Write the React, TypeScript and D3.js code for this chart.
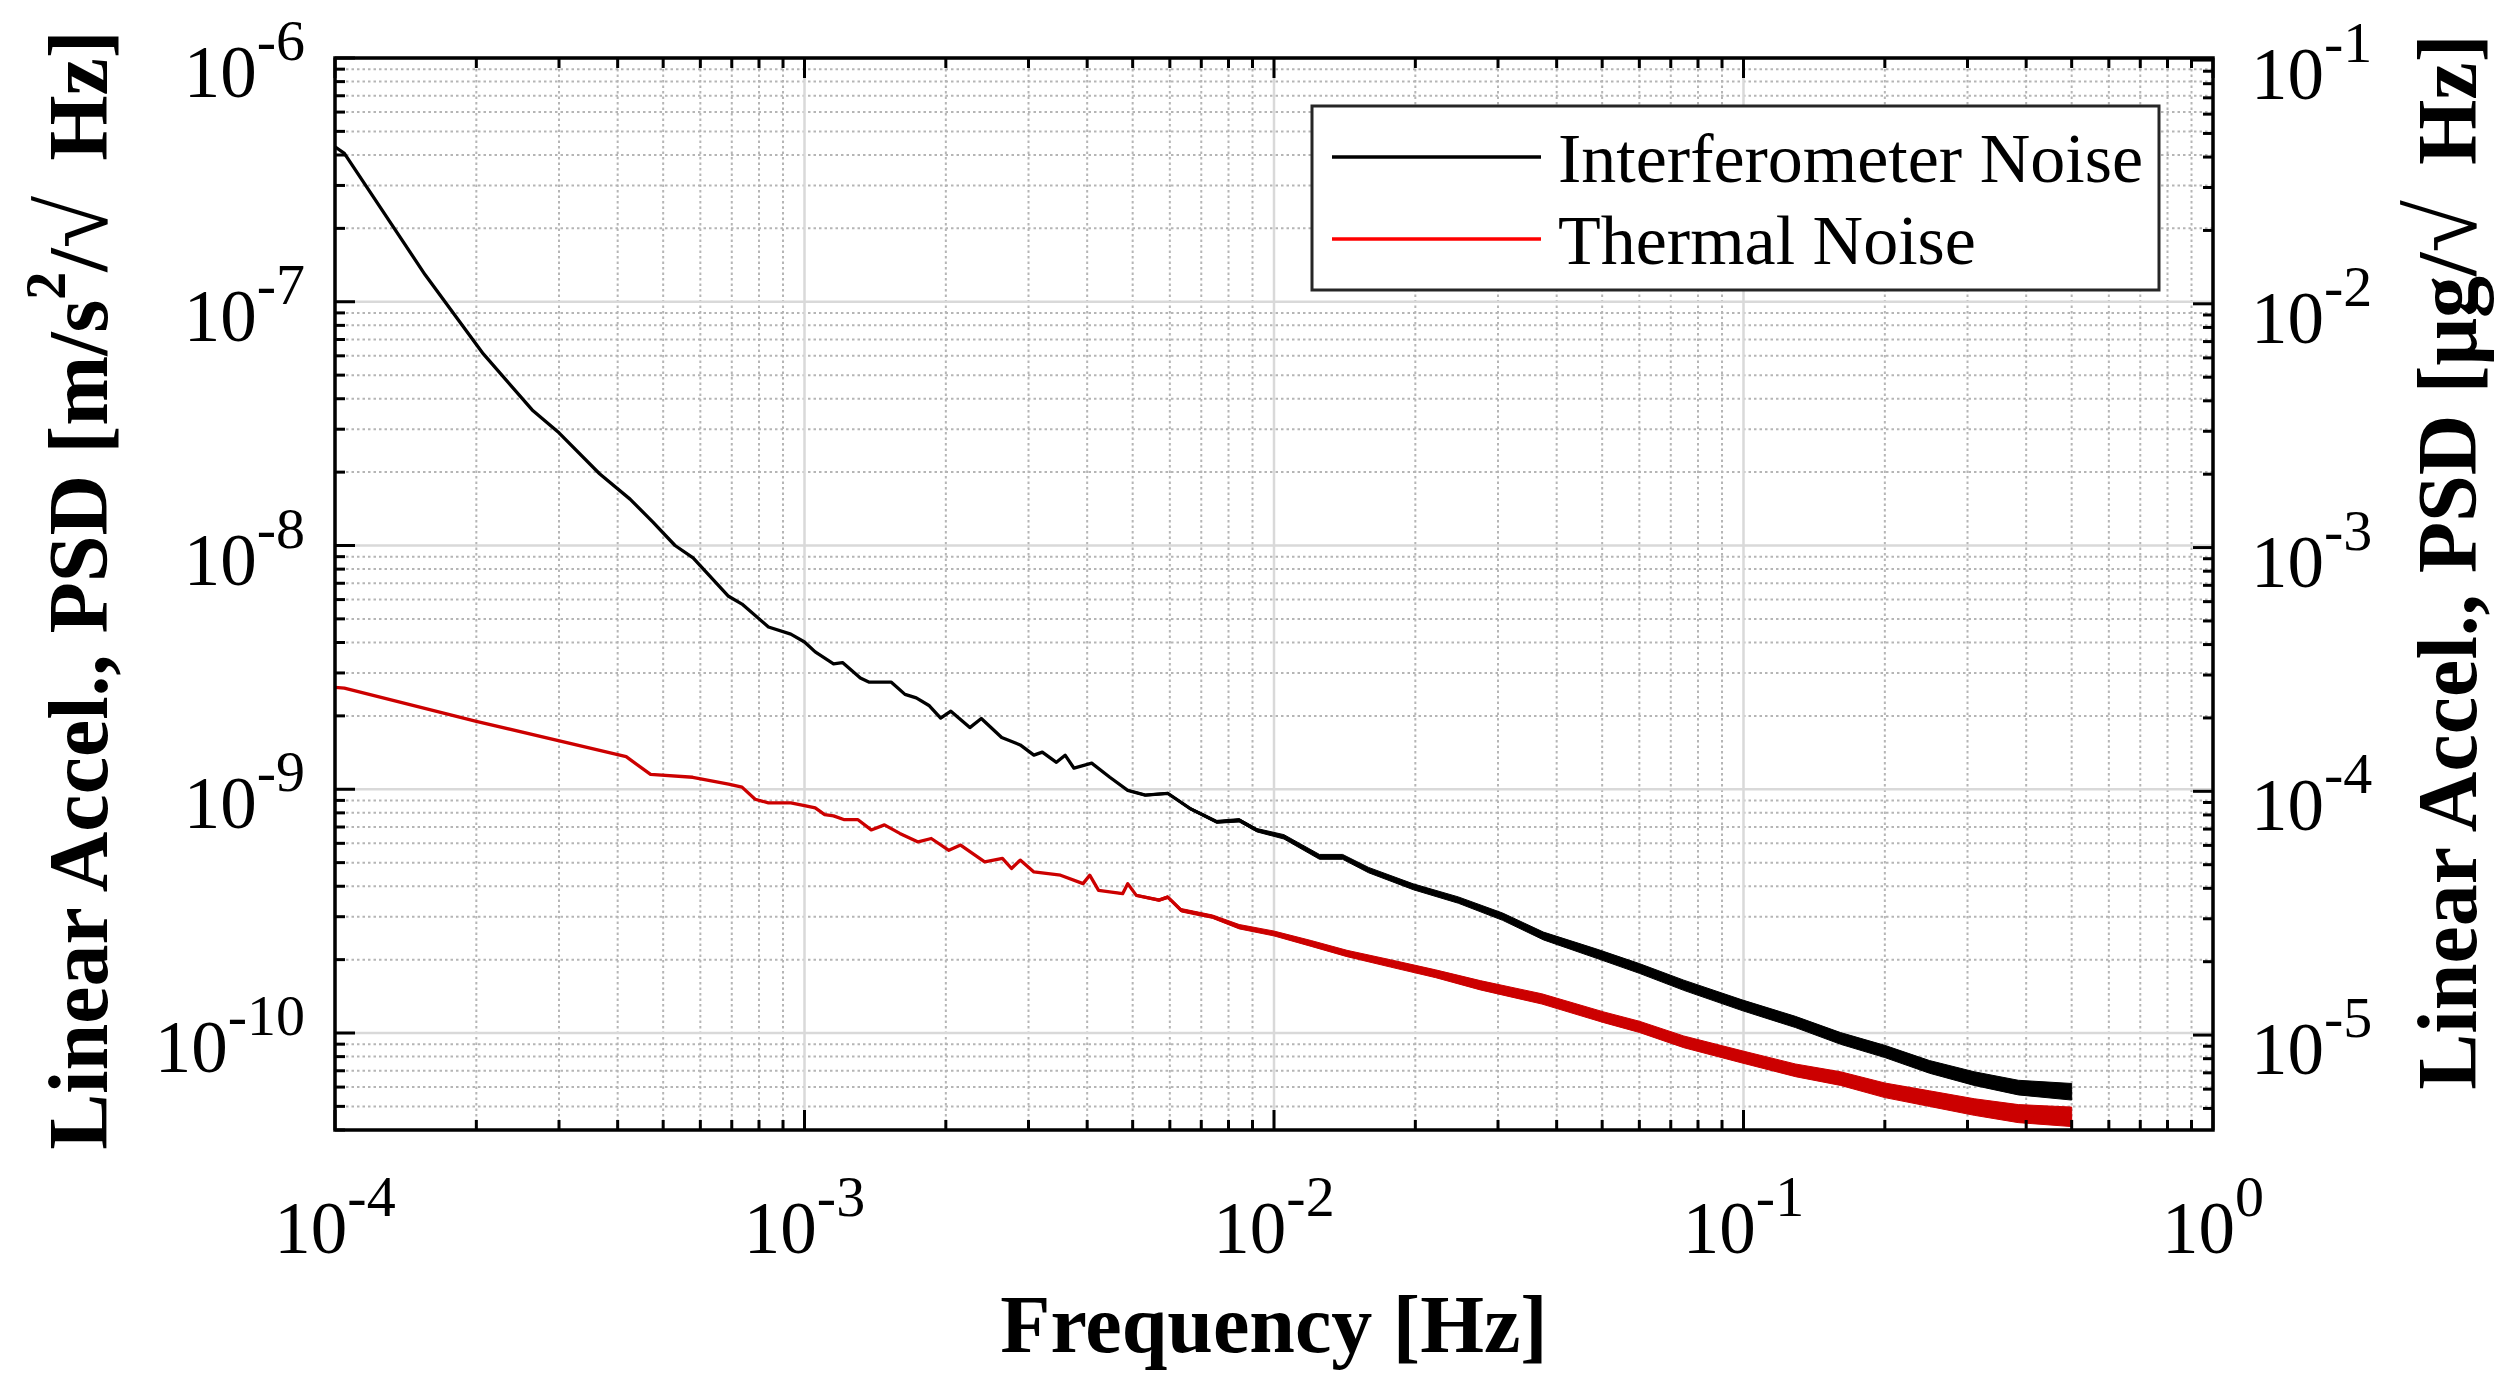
import { useEffect, useRef } from 'react'
import * as d3 from 'd3'

// Interferometer noise PSD [m/s^2/sqrt(Hz)]
const interfFreq = [1.0e-4, 1.047e-4, 1.556e-4, 2.07e-4, 2.63e-4, 3.0e-4, 3.66e-4, 4.25e-4, 4.75e-4, 5.3e-4, 5.79e-4, 6.89e-4, 7.36e-4, 8.38e-4, 9.35e-4, 1.0e-3, 1.054e-3, 1.153e-3, 1.205e-3, 1.315e-3, 1.374e-3, 1.531e-3, 1.637e-3, 1.73e-3, 1.845e-3, 1.95e-3, 2.05e-3, 2.25e-3, 2.38e-3, 2.63e-3, 2.88e-3, 3.08e-3, 3.21e-3, 3.44e-3, 3.59e-3, 3.75e-3, 4.09e-3, 4.47e-3, 4.88e-3, 5.32e-3, 5.94e-3, 6.62e-3, 7.55e-3, 8.43e-3, 9.2e-3, 1.05e-2, 1.25e-2, 1.4e-2, 1.59e-2, 1.98e-2, 2.47e-2, 3.07e-2, 3.75e-2, 4.85e-2, 6.0e-2, 7.46e-2, 9.93e-2, 1.29e-1, 1.61e-1, 2.0e-1, 2.49e-1, 3.1e-1, 3.85e-1, 5.0e-1]
const interfPsd = [4.32e-7, 4.06e-7, 1.29e-7, 6.11e-8, 3.6e-8, 2.9e-8, 1.97e-8, 1.55e-8, 1.25e-8, 1.0e-8, 8.9e-9, 6.19e-9, 5.75e-9, 4.63e-9, 4.33e-9, 4.02e-9, 3.66e-9, 3.27e-9, 3.31e-9, 2.86e-9, 2.75e-9, 2.75e-9, 2.45e-9, 2.37e-9, 2.2e-9, 1.96e-9, 2.09e-9, 1.79e-9, 1.95e-9, 1.63e-9, 1.52e-9, 1.38e-9, 1.42e-9, 1.29e-9, 1.38e-9, 1.22e-9, 1.28e-9, 1.12e-9, 9.9e-10, 9.46e-10, 9.62e-10, 8.34e-10, 7.35e-10, 7.46e-10, 6.79e-10, 6.38e-10, 5.28e-10, 5.28e-10, 4.66e-10, 3.98e-10, 3.51e-10, 3.0e-10, 2.5e-10, 2.12e-10, 1.84e-10, 1.57e-10, 1.3e-10, 1.11e-10, 9.5e-11, 8.4e-11, 7.26e-11, 6.5e-11, 5.97e-11, 5.74e-11]
// half-width of the noisy band, in decades
const interfSpread = [0, 0, 0, 0, 0, 0, 0, 0, 0, 0, 0, 0, 0, 0, 0, 0, 0, 0, 0, 0, 0, 0, 0, 0, 0, 0, 0, 0, 0, 0, 0, 0, 0, 0, 0, 0, 0, 0, 0.003, 0.004, 0.004, 0.005, 0.006, 0.007, 0.007, 0.009, 0.01, 0.01, 0.011, 0.012, 0.013, 0.015, 0.016, 0.019, 0.02, 0.021, 0.022, 0.023, 0.024, 0.025, 0.026, 0.028, 0.03, 0.034]

// Thermal noise PSD
const thermalFreq = [1.0e-4, 1.047e-4, 2.0e-4, 4.17e-4, 4.7e-4, 5.78e-4, 6.89e-4, 7.36e-4, 7.85e-4, 8.38e-4, 9.35e-4, 1.0e-3, 1.054e-3, 1.104e-3, 1.153e-3, 1.216e-3, 1.3e-3, 1.387e-3, 1.48e-3, 1.596e-3, 1.746e-3, 1.862e-3, 2.03e-3, 2.15e-3, 2.42e-3, 2.64e-3, 2.76e-3, 2.88e-3, 3.08e-3, 3.51e-3, 3.92e-3, 4.05e-3, 4.23e-3, 4.76e-3, 4.88e-3, 5.09e-3, 5.69e-3, 5.94e-3, 6.34e-3, 7.4e-3, 8.43e-3, 1.0e-2, 1.2e-2, 1.43e-2, 1.77e-2, 2.21e-2, 2.75e-2, 3.72e-2, 5.04e-2, 6.0e-2, 7.46e-2, 9.93e-2, 1.29e-1, 1.61e-1, 2.0e-1, 2.49e-1, 3.1e-1, 3.85e-1, 5.0e-1]
const thermalPsd = [2.62e-9, 2.6e-9, 1.9e-9, 1.36e-9, 1.15e-9, 1.12e-9, 1.05e-9, 1.02e-9, 9.1e-10, 8.79e-10, 8.79e-10, 8.57e-10, 8.38e-10, 7.87e-10, 7.78e-10, 7.5e-10, 7.5e-10, 6.81e-10, 7.14e-10, 6.59e-10, 6.08e-10, 6.28e-10, 5.62e-10, 5.9e-10, 5.04e-10, 5.2e-10, 4.73e-10, 5.12e-10, 4.58e-10, 4.44e-10, 4.1e-10, 4.44e-10, 3.85e-10, 3.73e-10, 4.1e-10, 3.67e-10, 3.51e-10, 3.61e-10, 3.19e-10, 3.0e-10, 2.73e-10, 2.56e-10, 2.33e-10, 2.12e-10, 1.93e-10, 1.75e-10, 1.57e-10, 1.38e-10, 1.16e-10, 1.06e-10, 9.2e-11, 7.98e-11, 7.03e-11, 6.5e-11, 5.82e-11, 5.38e-11, 4.97e-11, 4.67e-11, 4.53e-11]
const thermalSpread = [0, 0, 0, 0, 0, 0, 0, 0, 0, 0, 0, 0, 0, 0, 0, 0, 0, 0, 0, 0, 0, 0, 0, 0, 0, 0, 0, 0, 0, 0, 0, 0, 0, 0.003, 0.004, 0.004, 0.005, 0.006, 0.007, 0.007, 0.009, 0.01, 0.012, 0.013, 0.015, 0.016, 0.019, 0.021, 0.022, 0.023, 0.024, 0.025, 0.026, 0.028, 0.03, 0.032, 0.034, 0.037, 0.04]

const xTickExps = [-4, -3, -2, -1, 0]
const yTickExps = [-10, -9, -8, -7, -6]
const yRightTickExps = [-5, -4, -3, -2, -1]
const legendLabels = ['Interferometer Noise', 'Thermal Noise']
const seriesColors = ['#000000', '#cc0000']
const legendColors = ['#000000', '#ff0000']
const M_S2_PER_UG = 9.80665e-6

const FONT = '"Liberation Serif", "Times New Roman", serif'

export default function App() {
  const ref = useRef<SVGSVGElement>(null)

  useEffect(() => {
    const svg = d3.select(ref.current!)
    svg.selectAll('*').remove()
    const W = 2500, H = 1375
    const m = { l: 335, r: 2213, t: 58, b: 1130 }
    svg.attr('width', W).attr('height', H)

    const x = d3.scaleLog().domain([1e-4, 1]).range([m.l, m.r])
    const y = d3.scaleLog().domain([4e-11, 1e-6]).range([m.b, m.t])
    const yR = d3.scaleLog().domain([4e-11 / M_S2_PER_UG, 1e-6 / M_S2_PER_UG]).range([m.b, m.t])
    const isMajor = (v: number) => Math.abs(Math.log10(v) - Math.round(Math.log10(v))) < 1e-9

    svg.append('rect').attr('x', 0).attr('y', 0).attr('width', W).attr('height', H).attr('fill', '#fff')

    // grid
    const grid = svg.append('g')
    const xt = x.ticks(), yt = y.ticks()
    xt.filter(v => !isMajor(v)).forEach(v => {
      grid.append('line').attr('x1', x(v)).attr('x2', x(v)).attr('y1', m.t).attr('y2', m.b)
        .attr('stroke', '#b5b5b5').attr('stroke-width', 2).attr('stroke-dasharray', '2.5 3')
    })
    yt.filter(v => !isMajor(v)).forEach(v => {
      grid.append('line').attr('x1', m.l).attr('x2', m.r).attr('y1', y(v)).attr('y2', y(v))
        .attr('stroke', '#b5b5b5').attr('stroke-width', 2).attr('stroke-dasharray', '2.5 3')
    })
    xt.filter(isMajor).forEach(v => {
      grid.append('line').attr('x1', x(v)).attr('x2', x(v)).attr('y1', m.t).attr('y2', m.b)
        .attr('stroke', '#d9d9d9').attr('stroke-width', 2.5)
    })
    yt.filter(isMajor).forEach(v => {
      grid.append('line').attr('x1', m.l).attr('x2', m.r).attr('y1', y(v)).attr('y2', y(v))
        .attr('stroke', '#d9d9d9').attr('stroke-width', 2.5)
    })

    // data
    const series = [
      { f: interfFreq, v: interfPsd, s: interfSpread, color: seriesColors[0] },
      { f: thermalFreq, v: thermalPsd, s: thermalSpread, color: seriesColors[1] },
    ]
    const clip = svg.append('clipPath').attr('id', 'plotclip')
    clip.append('rect').attr('x', m.l).attr('y', m.t).attr('width', m.r - m.l).attr('height', m.b - m.t)
    const dg = svg.append('g').attr('clip-path', 'url(#plotclip)')
    series.forEach(sr => {
      const pts = sr.f.map((f, i) => ({ f, v: sr.v[i], s: sr.s[i] }))
      const area = d3.area<{ f: number; v: number; s: number }>()
        .x(p => x(p.f)).y0(p => y(p.v * Math.pow(10, -p.s))).y1(p => y(p.v * Math.pow(10, p.s)))
      dg.append('path').datum(pts).attr('fill', sr.color).attr('stroke', sr.color).attr('stroke-width', 1).attr('d', area as any)
      const line = d3.line<{ f: number; v: number }>().x(p => x(p.f)).y(p => y(p.v))
      dg.append('path').datum(pts).attr('fill', 'none').attr('stroke', sr.color).attr('stroke-width', 3.3)
        .attr('stroke-linejoin', 'round').attr('d', line as any)
    })

    // ticks (inside, MATLAB style)
    const tk = svg.append('g').attr('stroke', '#000').attr('stroke-width', 3)
    xt.forEach(v => {
      const len = isMajor(v) ? 20 : 10
      tk.append('line').attr('x1', x(v)).attr('x2', x(v)).attr('y1', m.b).attr('y2', m.b - len)
      tk.append('line').attr('x1', x(v)).attr('x2', x(v)).attr('y1', m.t).attr('y2', m.t + len)
    })
    yt.forEach(v => {
      const len = isMajor(v) ? 20 : 10
      tk.append('line').attr('x1', m.l).attr('x2', m.l + len).attr('y1', y(v)).attr('y2', y(v))
    })
    yR.ticks().forEach(v => {
      const len = isMajor(v) ? 20 : 10
      tk.append('line').attr('x1', m.r).attr('x2', m.r - len).attr('y1', yR(v)).attr('y2', yR(v))
    })
    svg.append('rect').attr('x', m.l).attr('y', m.t).attr('width', m.r - m.l).attr('height', m.b - m.t)
      .attr('fill', 'none').attr('stroke', '#000').attr('stroke-width', 3.5)

    // tick labels 10^n
    const pow = (px: number, py: number, e: number, anchor: string) => {
      const t = svg.append('text').attr('x', px).attr('y', py).attr('text-anchor', anchor)
        .attr('font-family', FONT).attr('font-size', 73).attr('fill', '#000')
      t.append('tspan').text('10')
      t.append('tspan').attr('font-size', 58).attr('dy', -37).text(String(e))
    }
    xTickExps.forEach(e => pow(x(Math.pow(10, e)), 1253, e, 'middle'))
    yTickExps.forEach(e => pow(m.l - 30, y(Math.pow(10, e)) + 39, e, 'end'))
    yRightTickExps.forEach(e => pow(m.r + 38, yR(Math.pow(10, e)) + 39, e, 'start'))

    // axis titles
    svg.append('text').attr('x', (m.l + m.r) / 2).attr('y', 1352).attr('text-anchor', 'middle')
      .attr('font-family', FONT).attr('font-weight', 'bold').attr('font-size', 82).text('Frequency [Hz]')
    const lt = svg.append('text').attr('transform', `translate(107,590) rotate(-90)`).attr('text-anchor', 'middle')
      .attr('font-family', FONT).attr('font-weight', 'bold').attr('font-size', 84)
    lt.append('tspan').text('Linear Accel., PSD [m/s')
    lt.append('tspan').attr('font-size', 56).attr('dy', -42).text('2')
    lt.append('tspan').attr('dy', 42).text('/')
    lt.append('tspan').attr('font-size', 96).attr('font-weight', 'normal').text('\u221A')
    lt.append('tspan').attr('dx', 14).text(' Hz]')
    const rt = svg.append('text').attr('transform', `translate(2476,562) rotate(-90)`).attr('text-anchor', 'middle')
      .attr('font-family', FONT).attr('font-weight', 'bold').attr('font-size', 84)
    rt.append('tspan').text('Linear Accel., PSD [\u03BCg/')
    rt.append('tspan').attr('font-size', 96).attr('font-weight', 'normal').text('\u221A')
    rt.append('tspan').attr('dx', 14).text(' Hz]')

    // legend
    const lg = svg.append('g')
    lg.append('rect').attr('x', 1312).attr('y', 106).attr('width', 847).attr('height', 184)
      .attr('fill', '#fff').attr('stroke', '#262626').attr('stroke-width', 3)
    legendLabels.forEach((lab, i) => {
      const ly = 157 + i * 82
      lg.append('line').attr('x1', 1332).attr('x2', 1541).attr('y1', ly).attr('y2', ly)
        .attr('stroke', legendColors[i]).attr('stroke-width', 3.5)
      lg.append('text').attr('x', 1558).attr('y', ly + 25).attr('font-family', FONT).attr('font-size', 70).text(lab)
    })
  }, [])

  return <svg ref={ref} style={{ position: 'absolute', left: 0, top: 0, display: 'block' }} />
}
